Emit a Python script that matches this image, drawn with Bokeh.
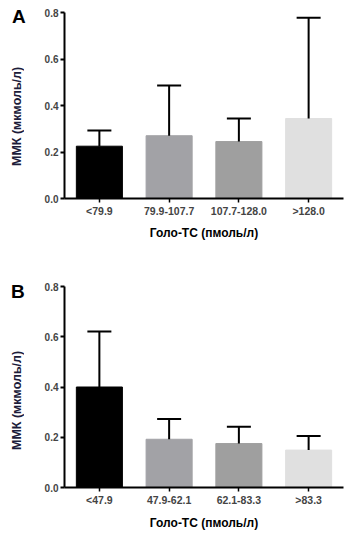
from bokeh.plotting import figure
from bokeh.layouts import column, row
from bokeh.models import (ColumnDataSource, FactorRange, Range1d, FixedTicker,
                          NumeralTickFormatter, Whisker, TeeHead, Div)
from bokeh.embed import file_html
from bokeh.resources import INLINE

# ---- data ----
cats_a = ["<79.9", "79.9-107.7", "107.7-128.0", ">128.0"]
mean_a = [0.225, 0.270, 0.245, 0.344]
upper_a = [0.292, 0.486, 0.344, 0.777]

cats_b = ["<47.9", "47.9-62.1", "62.1-83.3", ">83.3"]
mean_b = [0.400, 0.192, 0.175, 0.149]
upper_b = [0.621, 0.273, 0.242, 0.205]

bar_colors = ["#000000", "#a2a2a6", "#9f9f9f", "#e0e0e0"]
y_ticks = [0.0, 0.2, 0.4, 0.6, 0.8]
y_label = "ММК (мкмоль/л)"
x_label = "Голо-ТС (пмоль/л)"

FONT = "Liberation Sans"


def panel(cats, means, uppers, height, top, bottom, x_standoff):
    src = ColumnDataSource(dict(x=cats, top=means, upper=uppers, color=bar_colors))
    p = figure(x_range=FactorRange(*cats), y_range=Range1d(0, 0.8),
               width=319, height=height, output_backend="svg",
               toolbar_location=None, tools="")
    p.min_border_left = 24
    p.min_border_right = 16
    p.min_border_top = top
    p.min_border_bottom = bottom
    p.outline_line_color = None
    p.xgrid.visible = False
    p.ygrid.visible = False

    p.vbar(x="x", top="top", width=0.66, source=src, fill_color="color",
           line_color="color", line_width=1)
    w = Whisker(base="x", lower="top", upper="upper", source=src,
                line_color="black", line_width=2,
                upper_head=TeeHead(size=24, line_width=2, line_color="black"),
                lower_head=None, level="glyph")
    p.add_layout(w)

    ya = p.yaxis[0]
    ya.ticker = FixedTicker(ticks=y_ticks)
    ya.formatter = NumeralTickFormatter(format="0.0")
    ya.axis_line_width = 2
    ya.major_tick_line_width = 2
    ya.major_tick_in = 0
    ya.major_tick_out = 4
    ya.minor_tick_line_color = None
    ya.major_label_text_font = FONT
    ya.major_label_text_font_style = "bold"
    ya.major_label_text_font_size = "10px"
    ya.major_label_standoff = 2

    xa = p.xaxis[0]
    xa.axis_line_width = 2
    xa.major_tick_line_width = 1.5
    xa.major_tick_in = 0
    xa.major_tick_out = 4
    xa.major_label_text_font = FONT
    xa.major_label_text_font_style = "bold"
    xa.major_label_text_font_size = "10.5px"
    xa.major_label_standoff = 2
    xa.axis_label = x_label
    xa.axis_label_text_font = FONT
    xa.axis_label_text_font_style = "bold"
    xa.axis_label_text_font_size = "12px"
    xa.axis_label_text_color = "black"
    xa.axis_label_standoff = x_standoff
    return p


def side(letter, h, letter_top, letter_left, label_span):
    html = (
        f'<div style="position:relative;width:40px;height:{h}px;'
        f'font-family:\'{FONT}\';font-weight:bold;">'
        f'<div style="position:absolute;left:{letter_left}px;top:{letter_top}px;'
        f'font-size:19px;line-height:19px;color:black;">{letter}</div>'
        f'<div style="position:absolute;left:10px;top:0px;width:14px;height:{label_span}px;'
        f'writing-mode:vertical-rl;transform:rotate(180deg);text-align:center;'
        f'font-size:12.5px;line-height:14px;color:#1c1c3a;white-space:nowrap;">{y_label}</div>'
        f'</div>'
    )
    return Div(text=html, width=40, height=h, margin=(0, 0, 0, 0))


pa = panel(cats_a, mean_a, upper_a, 272, 12, 74, 6)
pb = panel(cats_b, mean_b, upper_b, 273, 14, 58, 7)

layout = column(row(side("A", 272, 7, 12, 232), pa),
                row(side("B", 273, 10, 11, 256), pb))
open("out.html", "w").write(file_html(layout, INLINE))
